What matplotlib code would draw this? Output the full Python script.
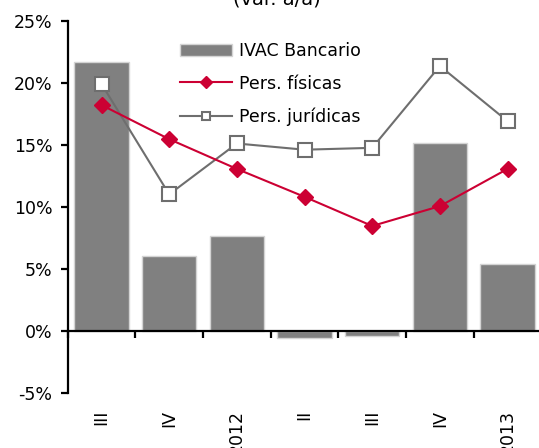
import numpy as np
from matplotlib import pyplot as plt

# datos (var. a/a, %)
quarters = ['III', 'IV', '2012', 'II', 'III', 'IV', '2013']
ivac_bancario = [21.7, 6.05, 7.65, -0.55, -0.4, 15.1, 5.4]
pers_fisicas = [18.2, 15.45, 13.05, 10.8, 8.45, 10.05, 13.05]
pers_juridicas = [19.9, 11.0, 15.1, 14.6, 14.75, 21.35, 16.9]

red = '#cc0033'
grey_line = '#6e6e6e'
grey_bar = '#808080'

plt.rcParams['font.family'] = ['DejaVu Sans']

fig = plt.figure(figsize=(5.39, 4.48), dpi=100)
ax = fig.add_axes([0.1256, 0.1232, 0.8788, 0.8306])

x = np.arange(len(quarters))
bars = ax.bar(x, ivac_bancario, width=0.8, color=grey_bar, edgecolor='#d4d4d4',
              linewidth=1, label='IVAC Bancario', zorder=1)
l1, = ax.plot(x, pers_fisicas, color=red, lw=1.5, marker='D', ms=8.5,
              markeredgecolor=red, label='Pers. físicas', zorder=3)
l2, = ax.plot(x, pers_juridicas, color=grey_line, lw=1.5, marker='s', ms=10,
              markerfacecolor='white', markeredgecolor=grey_line, mew=1.5,
              label='Pers. jurídicas', zorder=2)

ax.set_xlim(-0.5, len(quarters) - 0.5)
ax.set_ylim(-5, 25)
ax.set_yticks([-5, 0, 5, 10, 15, 20, 25])
ax.set_yticklabels(['%d%%' % v for v in [-5, 0, 5, 10, 15, 20, 25]])

for s in ['top', 'right']:
    ax.spines[s].set_visible(False)
ax.spines['bottom'].set_position(('data', 0))
ax.spines['left'].set_linewidth(1.6)
ax.spines['bottom'].set_linewidth(1.6)

ax.set_xticks(x)
ax.set_xticklabels(quarters, rotation=90)
ax.set_xticks(np.arange(-0.5, len(quarters)), minor=True)
ax.tick_params(axis='x', which='major', length=0, pad=57, labelsize=12.5)
ax.tick_params(axis='x', which='minor', length=5, width=1.6, direction='out')
ax.tick_params(axis='y', length=5, width=1.6, pad=6, labelsize=12.5)

leg = ax.legend([bars, l1, l2], [bars.get_label(), l1.get_label(), l2.get_label()],
                loc='upper left', bbox_to_anchor=(0.223, 0.962), frameon=False,
                fontsize=12.5, handlelength=3.0, handletextpad=0.4,
                labelspacing=0.85, borderaxespad=0)
for h in leg.legend_handles[1:]:
    h.set_markersize(6)

fig.text(0.514, 0.991, '(var. a/a)', ha='center', va='baseline', fontsize=14)

plt.savefig('out.png', dpi=100)
